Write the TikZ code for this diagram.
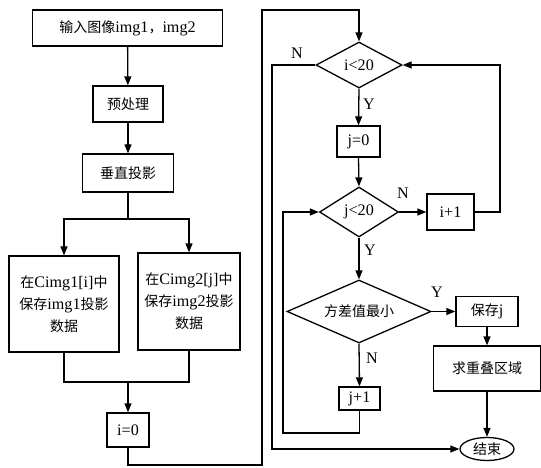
\documentclass[tikz,border=0pt]{standalone}
\usepackage{fontspec}
\setmainfont{Liberation Serif}[Scale=1.15]
\newfontfamily\cjk{Noto Sans CJK SC}
\usetikzlibrary{shapes.geometric,arrows.meta}
\tikzset{
  box/.style={draw,line width=1.3pt,inner sep=0pt,align=center,font=\fontsize{14}{22}\selectfont},
  dia/.style={draw,line width=1.3pt,diamond,aspect=2,inner sep=0pt,font=\fontsize{14}{16}\selectfont},
  conn/.style={line width=1.3pt},
  arr/.style={line width=1.3pt,-{Triangle[length=9pt,width=7pt]}},
  lab/.style={font=\fontsize{14}{16}\selectfont}
}
\begin{document}
\begin{tikzpicture}[x=1pt,y=-1pt]
\useasboundingbox (0,0) rectangle (541,468);
% left column
\node[box,minimum width=190pt,minimum height=36pt] (in) at (127.5,28) {{\cjk 输入图像}img1{\cjk ，}img2};
\node[box,minimum width=70pt,minimum height=36pt] (pre) at (128,104) {\cjk 预处理};
\node[box,minimum width=91pt,minimum height=38pt] (vert) at (128,173) {\cjk 垂直投影};
\node[box,minimum width=110pt,minimum height=96pt] (L) at (64,304) {{\cjk 在}Cimg1[i]{\cjk 中}\\{\cjk 保存}img1{\cjk 投影}\\{\cjk 数据}};
\node[box,minimum width=102pt,minimum height=97pt] (R) at (189,301.5) {{\cjk 在}Cimg2[j]{\cjk 中}\\{\cjk 保存}img2{\cjk 投影}\\{\cjk 数据}};
\node[box,minimum width=42pt,minimum height=34pt] (i0) at (128,430) {i=0};
% right part
\node[dia,minimum width=86pt,minimum height=46pt] (d1) at (359,65) {i<20};
\node[box,minimum width=43pt,minimum height=31pt] (j0) at (358.5,141.5) {j=0};
\node[dia,minimum width=79pt,minimum height=50pt] (d2) at (359,212) {j<20};
\node[box,minimum width=47pt,minimum height=36pt] (ip1) at (450.5,212) {i+1};
\node[dia,minimum width=144pt,minimum height=63pt] (d3) at (359,311.5) {\cjk 方差值最小};
\node[box,minimum width=62pt,minimum height=30pt] (save) at (487,311.5) {{\cjk 保存}j};
\node[box,minimum width=107pt,minimum height=45pt] (ov) at (487,368.5) {\cjk 求重叠区域};
\node[box,minimum width=41pt,minimum height=23pt] (jp1) at (359.5,398.5) {j+1};
\node[box,ellipse,minimum width=54pt,minimum height=23pt] (end) at (487,449) {\cjk 结束};
% coordinates
\coordinate (s1) at (128,219);
\coordinate (m) at (128,382);
\coordinate (c1) at (262,465);
\coordinate (c2) at (262,10);
\coordinate (c3) at (272,449);
\coordinate (c4) at (283,433);
\coordinate (c5) at (500,212);
% connectors
\draw[arr] (in) -- (pre);
\draw[arr] (pre) -- (vert);
\draw[conn] (vert) -- (s1);
\draw[arr] (s1) -| (L.north);
\draw[arr] (s1) -| (R.north);
\draw[conn] (L.south) |- (m) -| (R.south);
\draw[arr] (m) -- (i0.north);
\draw[arr] (i0.south) |- (c1) -- (c2) -| (d1.north);
\draw[arr] (d1.west) -| (c3) -- (end.west);
\draw[arr] (d1.south) -- (j0.north);
\draw[arr] (j0.south) -- (d2.north);
\draw[arr] (d2.east) -- (ip1.west);
\draw[arr] (ip1.east) -- (c5) |- (d1.east);
\draw[arr] (d2.south) -- (d3.north);
\draw[arr] (d3.east) -- (save.west);
\draw[arr] (save.south) -- (ov.north);
\draw[arr] (ov.south) -- (end.north);
\draw[arr] (d3.south) -- (jp1.north);
\draw[arr] (jp1.south) |- (c4) |- (d2.west);
% labels
\node[lab] (n1) at (297,53) {N};
\node[lab] (y1) at (369,104) {Y};
\node[lab] (n2) at (403,193) {N};
\node[lab] (y2) at (370,250) {Y};
\node[lab] (y3) at (437,292) {Y};
\node[lab] (n3) at (372,358) {N};
\end{tikzpicture}
\end{document}
